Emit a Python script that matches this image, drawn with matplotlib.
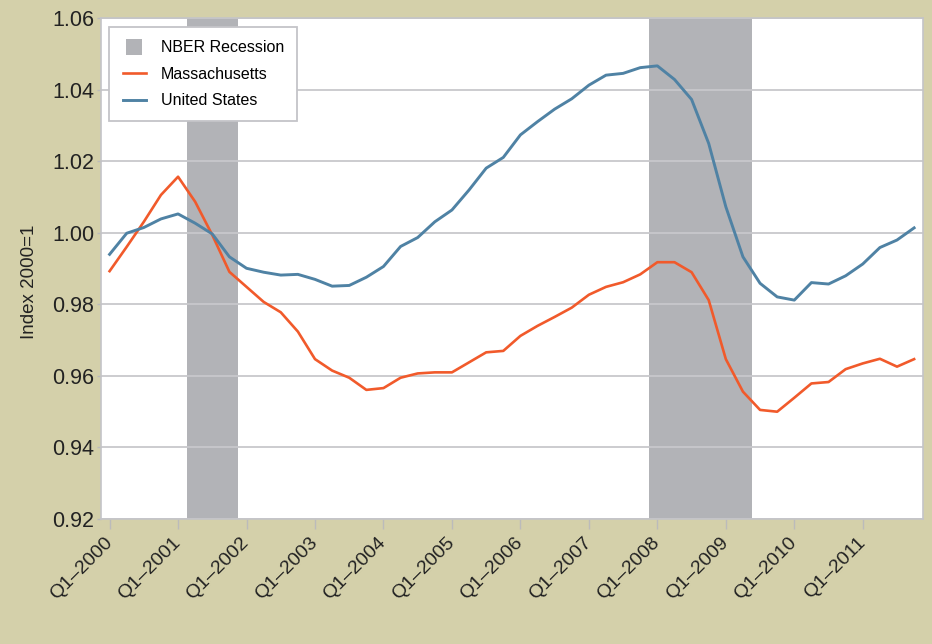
import matplotlib
matplotlib.use("Agg")
import matplotlib.pyplot as plt
from matplotlib.patches import Patch, Rectangle
from matplotlib.lines import Line2D
from matplotlib.legend_handler import HandlerPatch

plt.rcParams['font.family'] = ['Liberation Sans', 'DejaVu Sans']

# Quarterly index, Q1-2000 .. Q4-2011 (48 quarters)
massachusetts = [0.9893, 0.9961, 1.0031, 1.0106, 1.0157, 1.0087, 0.9994, 0.9891,
                 0.9849, 0.9807, 0.9778, 0.9724, 0.9647, 0.9615, 0.9595, 0.9561,
                 0.9566, 0.9595, 0.9607, 0.9610, 0.9610, 0.9638, 0.9666, 0.9670,
                 0.9712, 0.9740, 0.9765, 0.9791, 0.9827, 0.9849, 0.9862, 0.9884,
                 0.9918, 0.9918, 0.9890, 0.9812, 0.9647, 0.9556, 0.9505, 0.9500,
                 0.9539, 0.9579, 0.9583, 0.9619, 0.9635, 0.9648, 0.9626, 0.9647]
united_states = [0.9940, 0.9999, 1.0015, 1.0039, 1.0053, 1.0027, 0.9997, 0.9933,
                 0.9901, 0.9890, 0.9882, 0.9884, 0.9870, 0.9851, 0.9853, 0.9876,
                 0.9906, 0.9962, 0.9987, 1.0031, 1.0064, 1.0120, 1.0181, 1.0211,
                 1.0274, 1.0311, 1.0346, 1.0375, 1.0413, 1.0441, 1.0446, 1.0462,
                 1.0467, 1.0429, 1.0373, 1.0250, 1.0073, 0.9933, 0.9859, 0.9821,
                 0.9812, 0.9861, 0.9857, 0.9880, 0.9913, 0.9959, 0.9980, 1.0014]
quarters = list(range(48))
# NBER recessions as (first quarter index, last quarter index)
recessions = [(5, 7), (32, 37)]
year_labels = ['Q1\u20132000', 'Q1\u20132001', 'Q1\u20132002', 'Q1\u20132003',
               'Q1\u20132004', 'Q1\u20132005', 'Q1\u20132006', 'Q1\u20132007',
               'Q1\u20132008', 'Q1\u20132009', 'Q1\u20132010', 'Q1\u20132011']
y_ticks = [0.92, 0.94, 0.96, 0.98, 1.00, 1.02, 1.04, 1.06]

bg = '#d4d0aa'
rec_color = '#b2b3b7'
ma_color = '#f15a2b'
us_color = '#4f82a4'
grid_color = '#c8c8cc'


class SquareHandler(HandlerPatch):
    def create_artists(self, legend, orig_handle, xdescent, ydescent,
                       width, height, fontsize, trans):
        side = fontsize * 1.0
        cx = -xdescent + width / 2
        cy = -ydescent + height / 2
        r = Rectangle((cx - side / 2, cy - side / 2), side, side,
                      facecolor=orig_handle.get_facecolor(), edgecolor='none',
                      transform=trans)
        return [r]


fig = plt.figure(figsize=(9.32, 6.44), dpi=100, facecolor=bg)
ax = fig.add_axes([0.1084, 0.1941, 0.8816, 0.7775])
ax.set_facecolor('white')

for a, b in recessions:
    ax.axvspan(a - 0.5, b + 0.5, color=rec_color, lw=0, zorder=1)

ax.plot(quarters, massachusetts, color=ma_color, lw=1.9, zorder=3)
ax.plot(quarters, united_states, color=us_color, lw=2.1, zorder=3)

ax.set_xlim(-0.5, 47.5)
ax.set_ylim(0.92, 1.06)
ax.set_yticks(y_ticks)
ax.set_yticklabels([f'{v:.2f}' for v in y_ticks], fontsize=15.5, color='#222222')
ax.yaxis.grid(True, color=grid_color, lw=1.3, zorder=2)
for gl in ax.get_ygridlines():
    gl.set_zorder(2)

ax.set_xticks(range(0, 48, 4))
ax.set_xticklabels(year_labels, rotation=45, ha='right', va='center',
                   rotation_mode='anchor', fontsize=14, color='#222222')
ax.tick_params(axis='x', length=7, width=1, color='#bbbbbb', pad=8)
ax.tick_params(axis='y', length=3, width=1, color='#bbbbbb', pad=1.8)

for s in ax.spines.values():
    s.set_color('#c4c4c8')
    s.set_linewidth(1.2)
    s.set_zorder(4)

ax.set_ylabel('Index 2000=1', fontsize=13.5, color='#222222')
ax.yaxis.set_label_coords(-0.077, 0.474)

handles = [Patch(facecolor=rec_color, edgecolor='none', label='NBER Recession'),
           Line2D([0], [0], color=ma_color, lw=1.9, label='Massachusetts'),
           Line2D([0], [0], color=us_color, lw=2.1, label='United States')]
leg = ax.legend(handles=handles, loc='upper left', bbox_to_anchor=(0.0102, 0.982),
                fontsize=11.5, frameon=True, fancybox=False, framealpha=1,
                edgecolor='#c4c4c8', borderpad=0.82, labelspacing=0.72,
                handlelength=1.45, handletextpad=0.95, borderaxespad=0,
                handler_map={Patch: SquareHandler()})
leg.get_frame().set_linewidth(1.3)
leg.set_zorder(5)

fig.savefig('out.png', dpi=100, facecolor=bg)
